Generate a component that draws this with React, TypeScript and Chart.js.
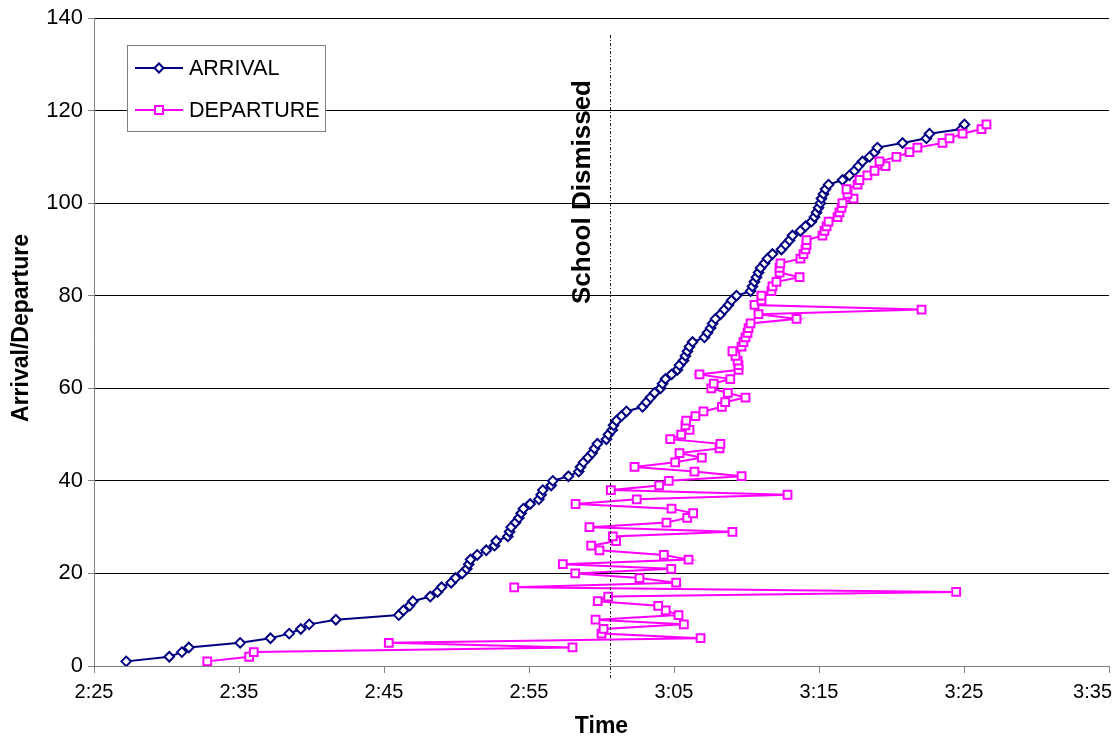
import React, { useEffect, useRef } from "react";
import { Chart, registerables } from "chart.js";

Chart.register(...registerables);

// vehicle sequence number (y value)
const vehicleNumbers = [
  1, 2, 3, 4, 5, 6, 7, 8, 9, 10, 11, 12, 13, 14, 15, 16, 17, 18, 19, 20,
  21, 22, 23, 24, 25, 26, 27, 28, 29, 30, 31, 32, 33, 34, 35, 36, 37, 38, 39, 40,
  41, 42, 43, 44, 45, 46, 47, 48, 49, 50, 51, 52, 53, 54, 55, 56, 57, 58, 59, 60,
  61, 62, 63, 64, 65, 66, 67, 68, 69, 70, 71, 72, 73, 74, 75, 76, 77, 78, 79, 80,
  81, 82, 83, 84, 85, 86, 87, 88, 89, 90, 91, 92, 93, 94, 95, 96, 97, 98, 99, 100,
  101, 102, 103, 104, 105, 106, 107, 108, 109, 110, 111, 112, 113, 114, 115, 116, 117,
];

// times in minutes after 2:00
const arrivalMinutes = [
  27.22, 30.19, 31.06, 31.54, 35.08, 37.17, 38.46, 39.26, 39.84, 41.68,
  46.02, 46.34, 46.76, 46.99, 48.19, 48.69, 48.97, 49.63, 49.93, 50.39,
  50.71, 50.85, 50.97, 51.43, 52.05, 52.62, 52.74, 53.54, 53.66, 53.77,
  54.07, 54.3, 54.46, 54.62, 55.08, 55.68, 55.84, 55.95, 56.53, 56.64,
  57.72, 58.43, 58.55, 58.76, 59.06, 59.36, 59.52, 59.72, 60.34, 60.48,
  60.74, 60.83, 61.03, 61.38, 61.72, 62.83, 63.1, 63.38, 63.66, 64.07,
  64.21, 64.41, 64.83, 65.24, 65.38, 65.66, 65.79, 65.93, 66.07, 66.28,
  67.1, 67.31, 67.52, 67.66, 67.86, 68.21, 68.48, 68.76, 68.97, 69.31,
  70.28, 70.41, 70.55, 70.69, 70.83, 70.97, 71.24, 71.45, 71.79, 72.41,
  72.69, 72.97, 73.17, 73.72, 74.07, 74.48, 74.69, 74.83, 74.97, 75.1,
  75.17, 75.31, 75.45, 75.66, 76.62, 77.1, 77.45, 77.72, 78.0, 78.48,
  78.83, 79.03, 80.76, 82.41, 82.62, 84.83, 85.03,
];

const departureMinutes = [
  32.81, 35.7, 36.02, 58.0, 45.33, 66.83, 60.0, 60.14, 65.68, 59.59,
  65.31, 64.43, 63.91, 59.74, 60.46, 84.46, 53.98, 65.15, 62.62, 58.19,
  64.81, 57.33, 66.0, 64.3, 59.86, 59.29, 61.01, 60.78, 69.03, 59.17,
  64.48, 65.91, 66.32, 64.83, 58.21, 62.43, 72.83, 60.64, 63.98, 64.64,
  69.66, 66.41, 62.28, 65.08, 66.92, 65.38, 68.14, 68.2, 64.74, 65.5,
  66.07, 65.79, 65.84, 66.48, 67.03, 68.3, 68.53, 69.93, 68.71, 67.57,
  67.74, 68.88, 66.76, 69.45, 69.45, 69.38, 69.24, 69.03, 69.66, 69.79,
  69.93, 70.07, 70.14, 70.28, 73.45, 70.83, 82.07, 70.55, 71.03, 71.03,
  71.72, 71.79, 72.07, 73.66, 72.28, 72.28, 72.34, 73.72, 73.93, 74.07,
  74.14, 74.14, 75.24, 75.38, 75.52, 75.66, 76.28, 76.41, 76.55, 76.62,
  77.38, 76.97, 76.9, 77.66, 77.79, 78.34, 78.83, 79.59, 79.17, 80.34,
  81.24, 81.79, 83.52, 84.0, 84.9, 86.21, 86.55,
];

const seriesNames = ["ARRIVAL", "DEPARTURE"];
const seriesColors = ["#000080", "#FF00FF"];
const dismissalMinute = 60.6;
const dismissalLabel = "School Dismissed";
const xMin = 25;
const xMax = 95;
const xStep = 10;
const yMin = 0;
const yMax = 140;
const yStep = 20;
const xTitle = "Time";
const yTitle = "Arrival/Departure";

const FONT = "'Liberation Sans', Arial, sans-serif";

const fmtTime = (v: number) => {
  const h = 2 + Math.floor(v / 60);
  const m = Math.round(v % 60);
  return `${h}:${String(m).padStart(2, "0")}`;
};

const overlayPlugin = {
  id: "overlay",
  afterDatasetsDraw(chart: any) {
    const { ctx, chartArea, scales } = chart;
    const x = scales.x;
    const px = Math.round(x.getPixelForValue(dismissalMinute)) + 0.5;
    ctx.save();
    ctx.strokeStyle = "#000";
    ctx.lineWidth = 1;
    ctx.setLineDash([3, 2, 1, 2]);
    ctx.beginPath();
    ctx.moveTo(px, chartArea.top + 17);
    ctx.lineTo(px, chartArea.bottom + 12);
    ctx.stroke();
    ctx.setLineDash([]);
    ctx.translate(px - 21, chartArea.top + 174);
    ctx.rotate(-Math.PI / 2);
    ctx.fillStyle = "#000";
    ctx.font = `bold 26px ${FONT}`;
    ctx.textAlign = "center";
    ctx.textBaseline = "alphabetic";
    ctx.fillText(dismissalLabel, 0, 0);
    ctx.restore();
  },
  afterDraw(chart: any) {
    const { ctx, chartArea, scales, width } = chart;
    ctx.save();

    // x tick labels (kept inside the canvas like the original)
    ctx.fillStyle = "#000";
    ctx.font = `20px ${FONT}`;
    ctx.textBaseline = "middle";
    ctx.textAlign = "left";
    scales.x.ticks.forEach((t: any) => {
      const label = fmtTime(t.value);
      const w = ctx.measureText(label).width;
      const cx = scales.x.getPixelForValue(t.value);
      let left = cx - w / 2;
      if (left + w > width - 5) left = width - 5 - w;
      ctx.fillText(label, left, chartArea.bottom + 26);
    });

    // y axis title
    ctx.save();
    ctx.translate(22, chartArea.top + 310);
    ctx.rotate(-Math.PI / 2);
    ctx.font = `bold 23px ${FONT}`;
    ctx.textAlign = "center";
    ctx.textBaseline = "middle";
    ctx.fillText(yTitle, 0, 0);
    ctx.restore();

    // legend
    const bx = chartArea.left + 33;
    const by = chartArea.top + 27;
    const bw = 198;
    const bh = 86;
    ctx.fillStyle = "#fff";
    ctx.fillRect(bx, by, bw, bh);
    ctx.strokeStyle = "#808080";
    ctx.lineWidth = 1;
    ctx.strokeRect(bx + 0.5, by + 0.5, bw, bh);
    const rows = [by + 23, by + 65];
    chart.data.datasets.forEach((ds: any) => {
      const idx = seriesNames.indexOf(ds.label);
      const yy = rows[idx];
      ctx.strokeStyle = ds.borderColor;
      ctx.lineWidth = 2;
      ctx.beginPath();
      ctx.moveTo(bx + 8, yy);
      ctx.lineTo(bx + 56, yy);
      ctx.stroke();
      ctx.fillStyle = "#fff";
      ctx.beginPath();
      const cx = bx + 32;
      if (ds.pointStyle === "rectRot") {
        const r = 4.5;
        ctx.moveTo(cx - r, yy);
        ctx.lineTo(cx, yy - r);
        ctx.lineTo(cx + r, yy);
        ctx.lineTo(cx, yy + r);
        ctx.closePath();
      } else {
        ctx.rect(cx - 4, yy - 4, 8, 8);
      }
      ctx.fill();
      ctx.stroke();
      ctx.fillStyle = "#000";
      ctx.font = `21.5px ${FONT}`;
      ctx.textAlign = "left";
      ctx.textBaseline = "middle";
      ctx.fillText(ds.label, bx + 62, yy + 1);
    });
    ctx.restore();
  },
};

export default function App() {
  const canvasRef = useRef<HTMLCanvasElement | null>(null);

  useEffect(() => {
    if (!canvasRef.current) return;
    const arrivalPoints = vehicleNumbers.map((n, i) => ({ x: arrivalMinutes[i], y: n }));
    const departurePoints = vehicleNumbers.map((n, i) => ({ x: departureMinutes[i], y: n }));

    const chart = new Chart(canvasRef.current, {
      type: "line",
      data: {
        datasets: [
          {
            label: seriesNames[0],
            data: arrivalPoints,
            borderColor: seriesColors[0],
            backgroundColor: "#ffffff",
            borderWidth: 2,
            pointStyle: "rectRot",
            pointRadius: 4.8,
            pointBorderWidth: 2,
            pointBackgroundColor: "#ffffff",
            pointBorderColor: seriesColors[0],
            tension: 0,
            order: 2,
          },
          {
            label: seriesNames[1],
            data: departurePoints,
            borderColor: seriesColors[1],
            backgroundColor: "#ffffff",
            borderWidth: 2,
            pointStyle: "rect",
            pointRadius: 5.5,
            pointBorderWidth: 2,
            pointBackgroundColor: "#ffffff",
            pointBorderColor: seriesColors[1],
            tension: 0,
            order: 1,
          },
        ],
      },
      options: {
        animation: false,
        responsive: false,
        events: [],
        layout: { padding: { top: 18, right: 8, left: 0, bottom: 0 } },
        plugins: {
          legend: { display: false },
          tooltip: { enabled: false },
        },
        scales: {
          x: {
            type: "linear",
            min: xMin,
            max: xMax,
            ticks: {
              stepSize: xStep,
              display: false,
              autoSkip: false,
            },
            grid: {
              drawOnChartArea: false,
              drawTicks: true,
              tickLength: 7,
              tickColor: "#808080",
            },
            border: { color: "#808080", width: 1 },
            title: {
              display: true,
              text: xTitle,
              color: "#000",
              font: { family: FONT, size: 23, weight: "bold", lineHeight: 1.0 },
              padding: { top: 0, bottom: 0 },
            },
            afterFit: (s: any) => {
              s.height = 72;
              s.paddingLeft = 0;
              s.paddingRight = 0;
            },
          },
          y: {
            type: "linear",
            min: yMin,
            max: yMax,
            ticks: {
              stepSize: yStep,
              color: "#000",
              font: { family: FONT, size: 22 },
              padding: 5,
            },
            grid: {
              color: "#000",
              lineWidth: 1,
              tickLength: 6,
              tickColor: "#808080",
            },
            border: { color: "#808080", width: 1 },
            title: { display: false },
            afterFit: (s: any) => {
              s.width = 94;
              s.paddingTop = 0;
              s.paddingBottom = 0;
            },
          },
        },
      },
      plugins: [overlayPlugin],
    } as any);

    return () => chart.destroy();
  }, []);

  return (
    <div style={{ position: "absolute", left: 0, top: 0, width: 1117, height: 738, background: "#fff" }}>
      <canvas ref={canvasRef} width={1117} height={738} style={{ display: "block" }} />
    </div>
  );
}
